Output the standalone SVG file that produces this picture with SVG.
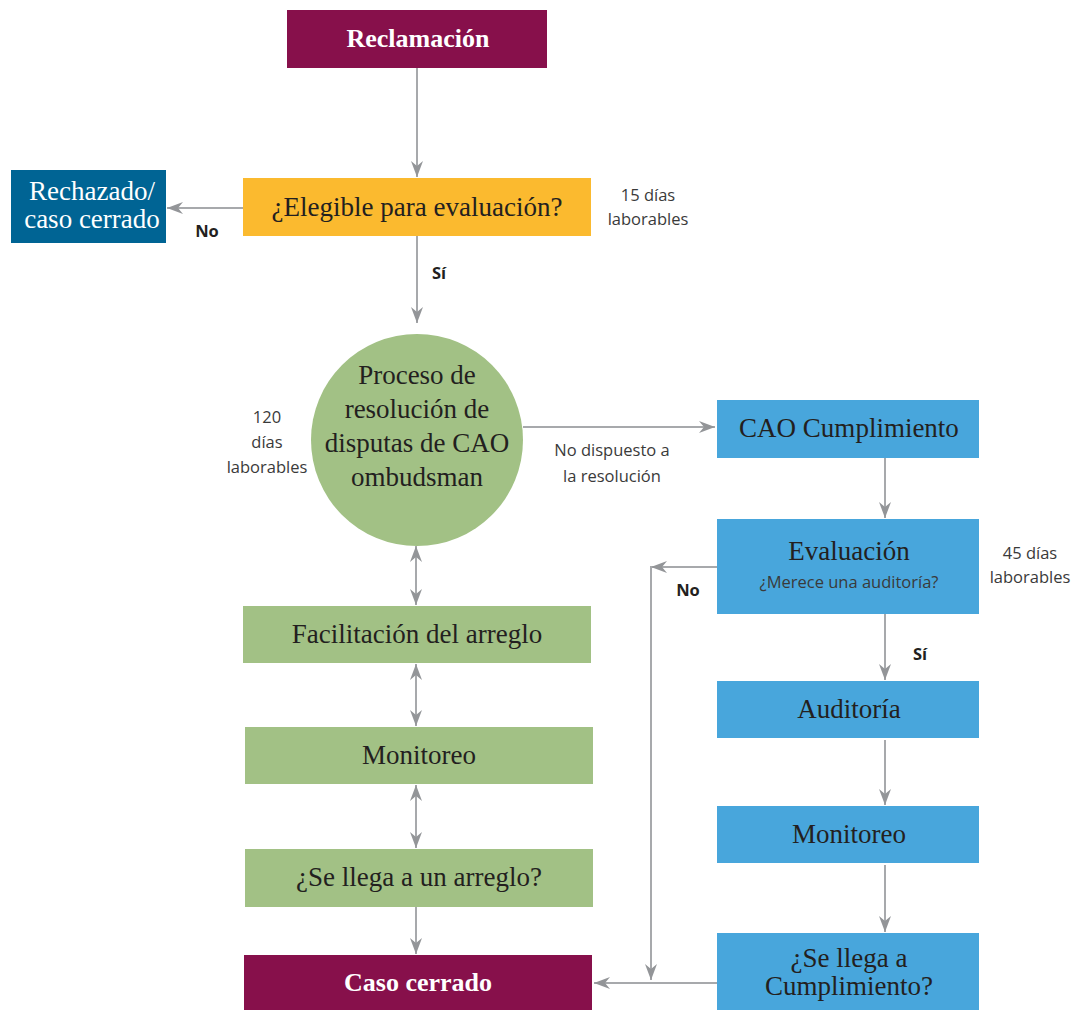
<svg xmlns="http://www.w3.org/2000/svg" width="1073" height="1010" viewBox="0 0 1073 1010">
<style>
.serif{font-family:"Liberation Serif","Times New Roman",serif;font-size:27px;fill:#231F20;text-anchor:middle}
.w{fill:#fff;font-weight:bold;font-size:26px}
.wl{fill:#fff}
.sans{font-family:"Open Sans","Liberation Sans",sans-serif;font-size:16.5px;fill:#3a3a3a;text-anchor:middle}
.b{font-weight:bold;fill:#231F20}
.c{stroke:#A7A9AC;stroke-width:2;fill:none}
.maroon{fill:#87104B}.yellow{fill:#FBBA2F}.dblue{fill:#006494}.green{fill:#A2C185}.lblue{fill:#48A6DC}
</style>
<defs>
<marker id="ah" viewBox="0 0 16 12" markerWidth="16" markerHeight="12" refX="16" refY="6" orient="auto-start-reverse" markerUnits="userSpaceOnUse">
<path d="M0,0 L16,6 L0,12 L5,6 Z" fill="#939598"/>
</marker>
</defs>
<g id="connectors">
<line class="c" x1="417" y1="68" x2="417" y2="177" marker-end="url(#ah)"/>
<line class="c" x1="243" y1="208" x2="167" y2="208" marker-end="url(#ah)"/>
<line class="c" x1="417" y1="236" x2="417" y2="323" marker-end="url(#ah)"/>
<line class="c" x1="523" y1="427" x2="715" y2="427" marker-end="url(#ah)"/>
<line class="c" x1="416" y1="546" x2="416" y2="605" marker-start="url(#ah)" marker-end="url(#ah)"/>
<line class="c" x1="416" y1="664" x2="416" y2="726" marker-start="url(#ah)" marker-end="url(#ah)"/>
<line class="c" x1="416" y1="785" x2="416" y2="848" marker-start="url(#ah)" marker-end="url(#ah)"/>
<line class="c" x1="416" y1="907" x2="416" y2="954" marker-end="url(#ah)"/>
<line class="c" x1="885" y1="458" x2="885" y2="518" marker-end="url(#ah)"/>
<line class="c" x1="885" y1="614" x2="885" y2="680" marker-end="url(#ah)"/>
<line class="c" x1="885" y1="740" x2="885" y2="805" marker-end="url(#ah)"/>
<line class="c" x1="885" y1="865" x2="885" y2="932" marker-end="url(#ah)"/>
<line class="c" x1="717" y1="567" x2="651" y2="567" marker-end="url(#ah)"/>
<line class="c" x1="651" y1="566" x2="651" y2="980" marker-end="url(#ah)"/>
<line class="c" x1="717" y1="983" x2="594" y2="983" marker-end="url(#ah)"/>
<text class="sans b" x="207" y="237">No</text>
<text class="sans b" x="439" y="279">Sí</text>
<text class="sans" x="612" y="456">No dispuesto a</text>
<text class="sans" x="612" y="482">la resolución</text>
<text class="sans b" x="688" y="596">No</text>
<text class="sans b" x="920" y="660">Sí</text>
</g>
<g id="reclamacion"><rect class="maroon" x="287" y="10" width="260" height="58"/><text class="serif w" x="418" y="47" font-size="27">Reclamación</text></g>
<g id="elegible"><rect class="yellow" x="243" y="178" width="348" height="58"/><text class="serif" x="417" y="216">¿Elegible para evaluación?</text></g>
<g id="plazo15"><text class="sans" x="648" y="201">15 días</text><text class="sans" x="648" y="225">laborables</text></g>
<g id="rechazado"><rect class="dblue" x="11" y="170" width="155" height="73"/><text class="serif wl" x="92" y="200">Rechazado/</text><text class="serif wl" x="92" y="228">caso cerrado</text></g>
<g id="ombudsman"><circle class="green" cx="417" cy="440" r="106"/>
<text class="serif" x="417" y="384" font-size="28">Proceso de</text>
<text class="serif" x="417" y="418" font-size="28">resolución de</text>
<text class="serif" x="417" y="452" font-size="28">disputas de CAO</text>
<text class="serif" x="417" y="486" font-size="28">ombudsman</text></g>
<g id="plazo120"><text class="sans" x="267" y="423">120</text><text class="sans" x="267" y="448">días</text><text class="sans" x="267" y="473">laborables</text></g>
<g id="facilitacion"><rect class="green" x="243" y="606" width="348" height="57"/><text class="serif" x="417" y="643">Facilitación del arreglo</text></g>
<g id="monitoreo1"><rect class="green" x="245" y="727" width="348" height="57"/><text class="serif" x="419" y="764" font-size="28">Monitoreo</text></g>
<g id="arreglo"><rect class="green" x="245" y="849" width="348" height="58"/><text class="serif" x="419" y="886">¿Se llega a un arreglo?</text></g>
<g id="casocerrado"><rect class="maroon" x="244" y="955" width="348" height="55"/><text class="serif w" x="418" y="991">Caso cerrado</text></g>
<g id="cumplimiento"><rect class="lblue" x="717" y="400" width="262" height="58"/><text class="serif" x="849" y="437" font-size="28">CAO Cumplimiento</text></g>
<g id="evaluacion"><rect class="lblue" x="717" y="519" width="262" height="95"/><text class="serif" x="849" y="560">Evaluación</text><text class="sans" x="849" y="588" font-size="17" fill="#231F20">¿Merece una auditoría?</text></g>
<g id="plazo45"><text class="sans" x="1030" y="559">45 días</text><text class="sans" x="1030" y="583">laborables</text></g>
<g id="auditoria"><rect class="lblue" x="717" y="681" width="262" height="57"/><text class="serif" x="849" y="718" font-size="28">Auditoría</text></g>
<g id="monitoreo2"><rect class="lblue" x="717" y="806" width="262" height="57"/><text class="serif" x="849" y="843" font-size="28">Monitoreo</text></g>
<g id="llegacumplimiento"><rect class="lblue" x="717" y="933" width="262" height="77"/><text class="serif" x="849" y="967" font-size="28">¿Se llega a</text><text class="serif" x="849" y="995" font-size="28">Cumplimiento?</text></g>
</svg>
